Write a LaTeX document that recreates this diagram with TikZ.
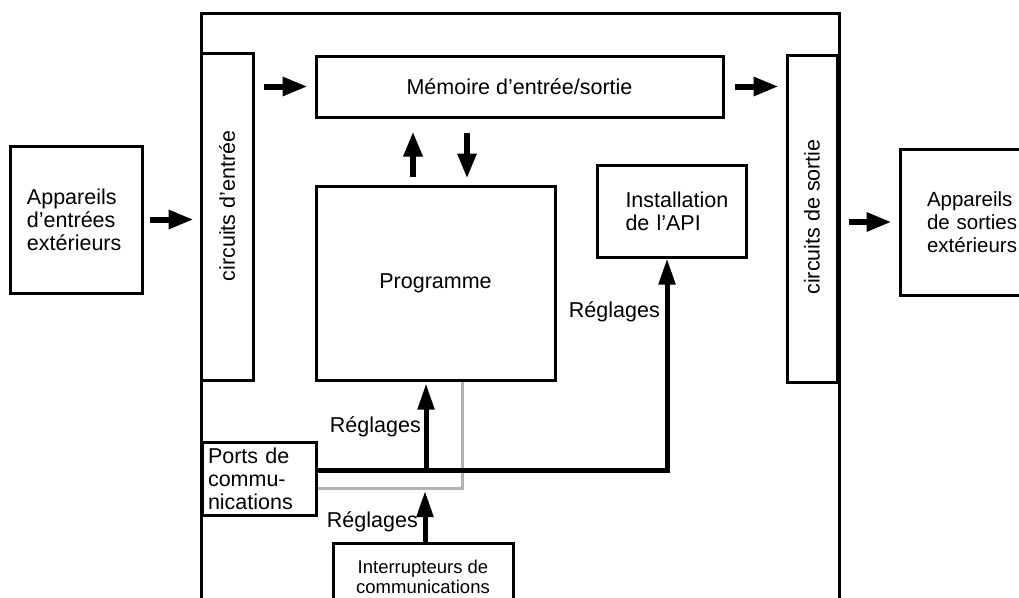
\documentclass[tikz,border=0pt]{standalone}
\usepackage{fontspec}
\setmainfont{Liberation Sans}
\usepackage{tikz}
\usetikzlibrary{arrows.meta,positioning,calc}
\tikzstyle{boite} = [rectangle, draw=black, line width=3pt, inner sep=0pt, font=\fontsize{21.5}{23}\selectfont]
\tikzstyle{texte} = [inner sep=0pt, font=\fontsize{21.5}{23}\selectfont]
\tikzstyle{fleche} = [line width=6pt, -{Triangle[length=25pt,width=18pt]}]
\tikzstyle{reglage} = [line width=5pt, -{Triangle[length=26pt,width=16pt]}]
\tikzstyle{gris} = [line width=3pt, draw=gray!60]

\begin{document}
\begin{tikzpicture}[x=1pt,y=1pt]
\useasboundingbox (0,0) rectangle (1019,-597);
\node (Cadre) [boite, minimum width=638pt, minimum height=620pt] at (520,-323) {};
\node (ExtIn) [boite, minimum width=132pt, minimum height=147pt, align=left, text width=98pt] at (76,-219.5) {Appareils\\d’entrées\\extérieurs};
\node (CircIn) [boite, minimum width=52pt, minimum height=327pt] at (227,-216.5) {};
\node (CircInTxt) [texte, rotate=90] at (227,-206) {circuits d’entrée};
\node (Mem) [boite, minimum width=407pt, minimum height=61pt] at (519.5,-86.5) {Mémoire d’entrée/sortie};
\node (Prog) [boite, minimum width=239pt, minimum height=194pt] at (435.5,-283) {Programme};
\node (API) [boite, minimum width=149pt, minimum height=92pt, align=left, text width=92pt] at (671.5,-211) {Installation\\de l’API};
\node (CircOut) [boite, minimum width=50pt, minimum height=327pt] at (812,-218.5) {};
\node (CircOutTxt) [texte, rotate=90] at (812,-217) {circuits de sortie};
\node (ExtOut) [boite, minimum width=160pt, minimum height=146pt, align=left, text width=106pt, font=\fontsize{20.5}{23}\selectfont] at (980,-222) {Appareils\\de sorties\\extérieurs};
\node (Ports) [boite, minimum width=114pt, minimum height=73pt, align=left, text width=102pt] at (259,-478.5) {Ports de\\commu-\\nications};
\node (Inter) [boite, minimum width=180pt, minimum height=68pt, align=center, font=\fontsize{18.5}{20}\selectfont] at (423,-577) {Interrupteurs de\\communications};
% fleches principales
\draw [fleche, shorten <=6pt, shorten >=6pt] (ExtIn.east) -- (ExtIn.east -| CircIn.west);
\draw [fleche, shorten <=9pt, shorten >=7pt] (CircIn.east |- Mem.west) -- (Mem.west);
\draw [fleche, shorten <=10pt, shorten >=7pt] (Mem.east) -- (Mem.east -| CircOut.west);
\draw [fleche, shorten <=10pt, shorten >=7pt] (CircOut.east |- ExtOut.west) -- (ExtOut.west);
\draw [fleche, shorten <=8pt, shorten >=13pt] ([xshift=-22.5pt]Prog.north) -- ([xshift=-22.5pt]Prog.north |- Mem.south);
\draw [fleche, shorten <=14pt, shorten >=6pt] ([xshift=31.5pt]Prog.north |- Mem.south) -- ([xshift=31.5pt]Prog.north);
% reglages
\coordinate (BusG) at ([yshift=8.5pt]Ports.east);
\coordinate (GrisG) at ([yshift=-9.5pt]Ports.east);
\draw [gris] (GrisG) -| ([xshift=26.5pt]Prog.south);
\draw [reglage] (BusG) -| ([xshift=-4.5pt]API.south);
\draw [reglage, shorten >=2pt] ([xshift=-9.5pt]Prog.south |- BusG) -- ([xshift=-9.5pt]Prog.south);
\draw [reglage, shorten >=3pt] ([xshift=2pt]Inter.north) -- ([xshift=2pt]Inter.north |- GrisG);
\node (Reg1) [texte, anchor=base east] at (421,-432) {Réglages};
\node (Reg2) [texte, anchor=base east] at (418,-527) {Réglages};
\node (Reg3) [texte, anchor=base east] at (660,-317) {Réglages};
\end{tikzpicture}
\end{document}
